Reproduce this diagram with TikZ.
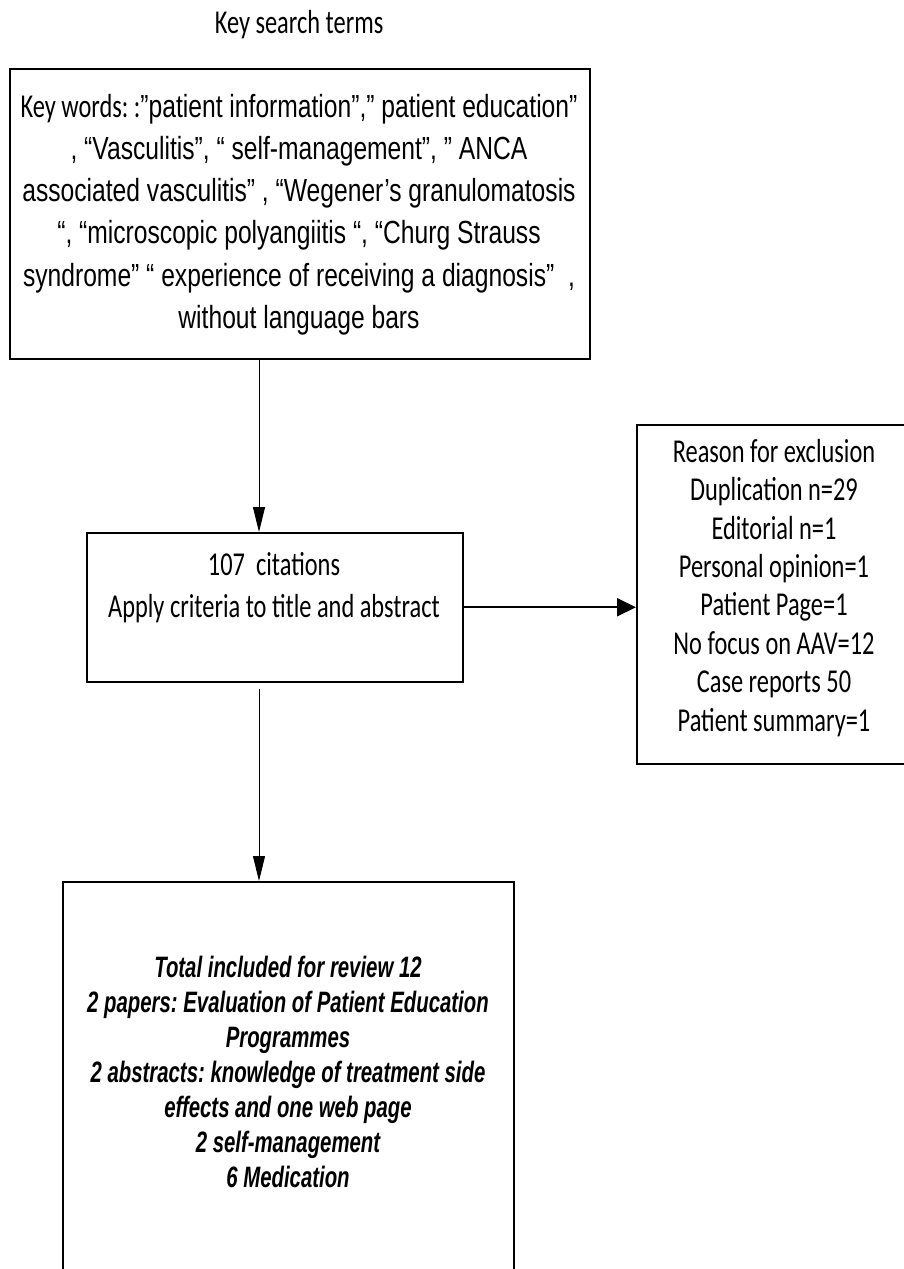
\documentclass[tikz,border=0pt]{standalone}
\usepackage{fontspec}
\usetikzlibrary{arrows.meta}
% condensed faces used throughout the chart
\newfontfamily\calfont[FakeStretch=0.73]{Carlito}
\newfontfamily\arialfont[FakeStretch=0.77]{Liberation Sans}
\newfontfamily\arialnarrow[FakeStretch=0.69]{Liberation Sans}
\frenchspacing
\begin{document}
\begin{tikzpicture}[x=1pt,y=-1pt,
  box/.style={draw, line width=1.5pt, rectangle, inner sep=0pt, anchor=north west},
  calibritext/.style={font=\fontsize{33.4}{42}\selectfont\calfont, align=center, inner sep=0pt},
  thinarrow/.style={line width=1pt, -{Triangle[width=12pt,length=25pt]}},
  thickarrow/.style={line width=2pt, -{Triangle[width=18pt,length=19pt]}}]
\useasboundingbox (0,0) rectangle (904,1269);
\clip (0,0) rectangle (904,1269);

% heading
\node[calibritext, anchor=base] (title) at (299,33) {Key search terms};

% search terms box
\node[box, minimum width=580pt, minimum height=290pt] (terms) at (9,68) {};
\node[font=\fontsize{32}{42.2}\selectfont\arialfont, align=center, inner sep=0pt, anchor=north]
  (termstext) at (299,89)
  {\rule{0pt}{28pt}{\calfont\fontsize{33.4}{42.2}\selectfont Key words: :}”patient information”,” patient education”\\
   , “Vasculitis”, “ self-management”, ” ANCA\\
   associated vasculitis” , “Wegener’s granulomatosis\\
   “, “microscopic polyangiitis “, “Churg Strauss\\
   syndrome” “ experience of receiving a diagnosis”\ \ ,\\
   without language bars};

% screening box
\node[box, minimum width=376pt, minimum height=149pt] (cites) at (86,532) {};
\node[calibritext, anchor=north] (citestext) at (274,547)
  {\rule{0pt}{28pt}107\ \ citations\\Apply criteria to title and abstract};

% exclusions box
\node[box, minimum width=276pt, minimum height=339pt] (excl) at (636,424) {};
\node[calibritext, font=\fontsize{33.4}{38.4}\selectfont\calfont, anchor=north] (excltext) at (774,434)
  {\rule{0pt}{28pt}Reason for exclusion\\Duplication n=29\\Editorial n=1\\Personal opinion=1\\
   Patient Page=1\\No focus on AAV=12\\Case reports 50\\Patient summary=1};

% included studies box
\node[box, minimum width=451pt, minimum height=420pt] (incl) at (62,881) {};
\node[font=\fontsize{29.5}{35}\selectfont\arialnarrow\bfseries\itshape, align=center, inner sep=0pt, anchor=north]
  (incltext) at (288,953)
  {\rule{0pt}{24pt}Total included for review 12\\
   2 papers: Evaluation of Patient Education\\
   Programmes\\
   2 abstracts: knowledge of treatment side\\
   effects and one web page\\
   2 self-management\\
   6 Medication};

% connectors
\coordinate (axis) at (259,0);
\coordinate (gapstart) at (259,689);
\draw[thinarrow] (terms.south -| axis) -- (cites.north -| axis);
\draw[thickarrow] (cites.east) -- (cites.east -| excl.west);
\draw[thinarrow] (gapstart) -- (incl.north -| axis);
\end{tikzpicture}
\end{document}
